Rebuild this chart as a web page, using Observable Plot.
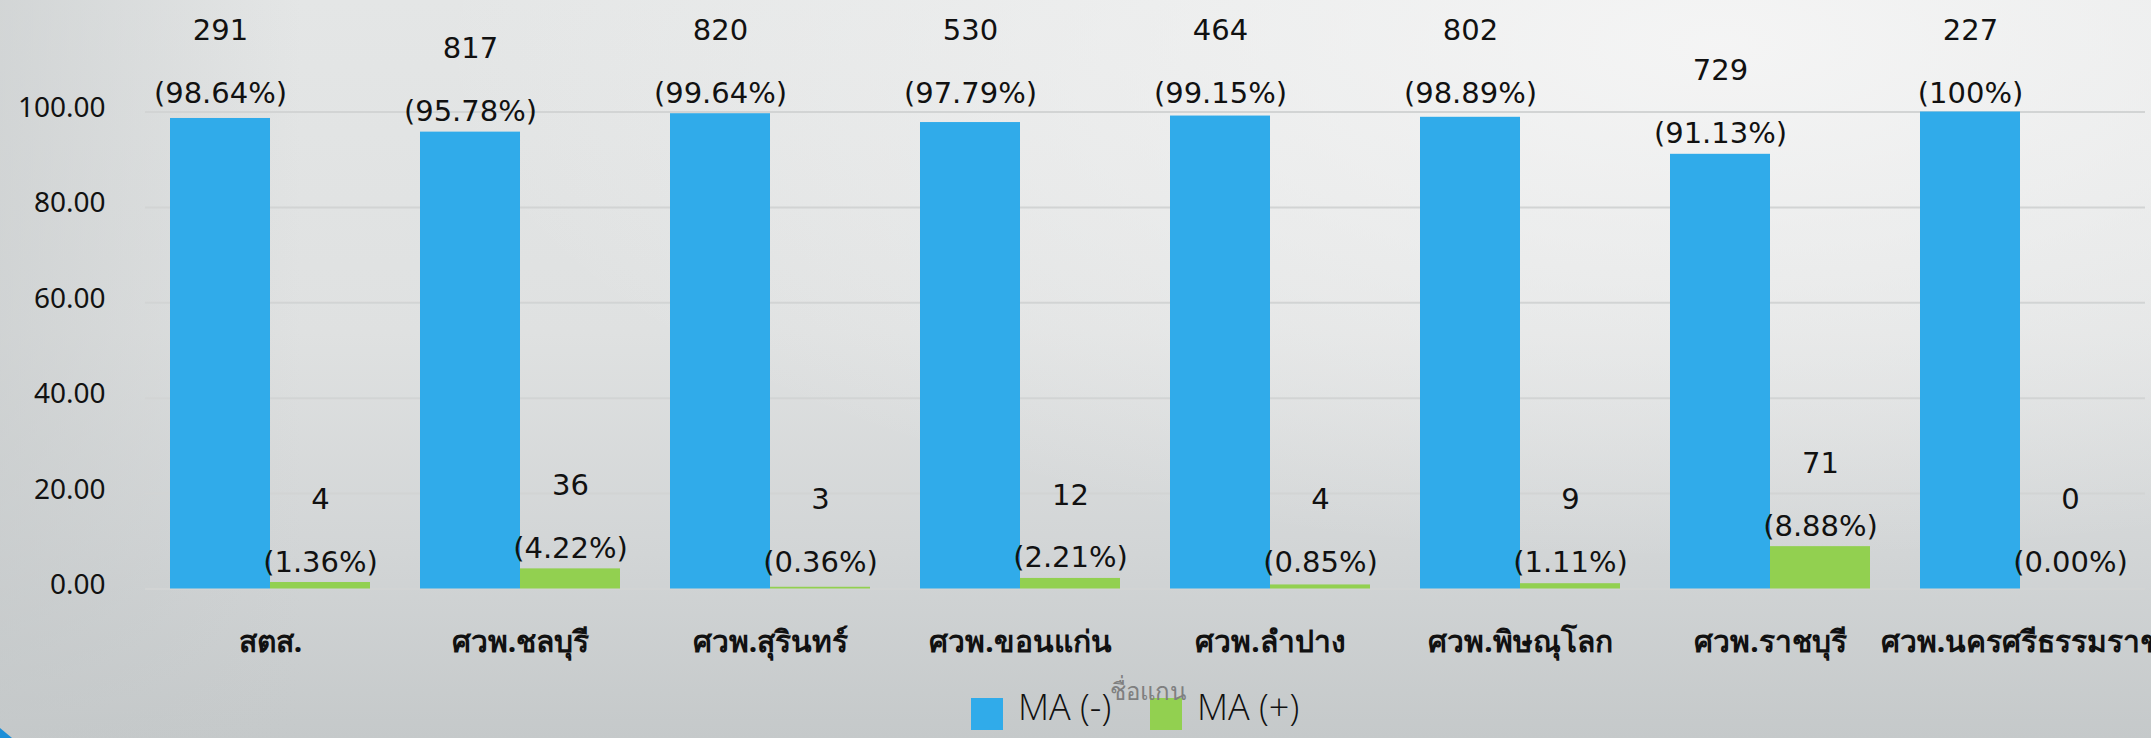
<!DOCTYPE html>
<html>
<head>
<meta charset="utf-8">
<script src="https://cdn.jsdelivr.net/npm/d3@7"></script>
<script src="https://cdn.jsdelivr.net/npm/@observablehq/plot@0.6"></script>
<style>
  html, body { margin: 0; padding: 0; }
  body {
    width: 2151px; height: 738px; overflow: hidden; position: relative;
    background:
      linear-gradient(to right, rgba(196,200,201,0.55) 0%, rgba(196,200,201,0) 14%),
      radial-gradient(ellipse 60% 70% at 80% 6%, rgba(246,246,246,0.9) 0%, rgba(246,246,246,0) 100%),
      linear-gradient(to bottom, #e4e6e6 0%, #dfe1e1 45%, #d2d5d6 75%, #c5c9ca 100%);
    font-family: "Noto Sans", "Open Sans", sans-serif;
  }
  #chart svg { display: block; }
  #legend { position: relative; height: 58px; }
  #legend .sw { position: absolute; top: 18px; width: 32px; height: 32px; }
  #legend .lt { position: absolute; top: 9px; font-family: "Open Sans", "Noto Sans", sans-serif; font-weight: 300; font-size: 36px; line-height: 36px; color: #111; white-space: nowrap; }
  #legend .at { position: absolute; top: -1px; font-size: 24px; line-height: 24px; color: #7f7f7f; white-space: nowrap; }
  .corner { position: absolute; left: 0; bottom: 0; width: 0; height: 0; border-left: 12px solid #1b8ed8; border-top: 10px solid transparent; }
</style>
</head>
<body>
<div id="chart"></div>
<div id="legend"></div>
<div class="corner"></div>
<script>
const categories = ["สตส.", "ศวพ.ชลบุรี", "ศวพ.สุรินทร์", "ศวพ.ขอนแก่น", "ศวพ.ลำปาง", "ศวพ.พิษณุโลก", "ศวพ.ราชบุรี", "ศวพ.นครศรีธรรมราช"];
const series = ["MA (-)", "MA (+)"];
const pctNeg = [98.64, 95.78, 99.64, 97.79, 99.15, 98.89, 91.13, 100];
const pctPos = [1.36, 4.22, 0.36, 2.21, 0.85, 1.11, 8.88, 0];
const countNeg = [291, 817, 820, 530, 464, 802, 729, 227];
const countPos = [4, 36, 3, 12, 4, 9, 71, 0];
const pctNegLabels = ["98.64%", "95.78%", "99.64%", "97.79%", "99.15%", "98.89%", "91.13%", "100%"];
const pctPosLabels = ["1.36%", "4.22%", "0.36%", "2.21%", "0.85%", "1.11%", "8.88%", "0.00%"];
const yTicks = [0, 20, 40, 60, 80, 100];
const colors = ["#30abea", "#92d050"];
const axisTitle = "ชื่อแกน";

const rows = categories.flatMap((c, i) => [
  {category: c, series: series[0], value: pctNeg[i], count: countNeg[i], label: pctNegLabels[i]},
  {category: c, series: series[1], value: pctPos[i], count: countPos[i], label: pctPosLabels[i]}
]);

// Excel keeps data labels inside the plot area: labels of near-full bars sit at the top, labels of tiny bars at a minimum height
const labelY = d => d.series === series[0] ? (d.value > 97 ? 99.6 : d.value) : Math.max(d.value, 1.36);

const chart = Plot.plot({
  width: 2151,
  height: 680,
  marginTop: 111.5,
  marginBottom: 91.5,
  marginLeft: 142,
  marginRight: 2.5,
  style: {background: "transparent", fontFamily: "'Noto Sans', 'Open Sans', sans-serif", color: "#111", overflow: "visible"},
  fx: {domain: categories, padding: 0, label: null},
  x: {domain: series, paddingInner: 0, paddingOuter: 0.25, axis: null},
  y: {domain: [0, 100], label: null},
  color: {domain: series, range: colors},
  marks: [
    Plot.gridY(yTicks, {stroke: "#d2d4d4", strokeOpacity: 1, strokeWidth: 2}),
    Plot.axisY(yTicks, {tickSize: 0, tickPadding: 40, fontSize: 28, dy: -4, tickFormat: d => d.toFixed(2), label: null}),
    Plot.axisFx({anchor: "bottom", tickSize: 0, tickPadding: 42, fontSize: 30, fontWeight: "bold", label: null}),
    Plot.barY(rows, {fx: "category", x: "series", y: "value", fill: "series", inset: 0}),
    Plot.text(rows, {fx: "category", x: "series", y: labelY, text: d => `${d.count}\n(${d.label})`, lineAnchor: "bottom", lineHeight: 2.17, fontSize: 29, fontFamily: "'DejaVu Sans', sans-serif", dy: -11, fill: "#111"})
  ]
});
document.getElementById("chart").appendChild(chart);

const legend = document.getElementById("legend");
const legendItems = [
  {name: series[0], color: colors[0], sw: 971, tx: 1018},
  {name: series[1], color: colors[1], sw: 1150, tx: 1197}
];
for (const it of legendItems) {
  const s = document.createElement("div");
  s.className = "sw"; s.style.left = it.sw + "px"; s.style.background = it.color;
  legend.appendChild(s);
  const t = document.createElement("div");
  t.className = "lt"; t.style.left = it.tx + "px"; t.textContent = it.name;
  legend.appendChild(t);
}
const at = document.createElement("div");
at.className = "at"; at.style.left = "1110px"; at.textContent = axisTitle;
legend.appendChild(at);
</script>
</body>
</html>
